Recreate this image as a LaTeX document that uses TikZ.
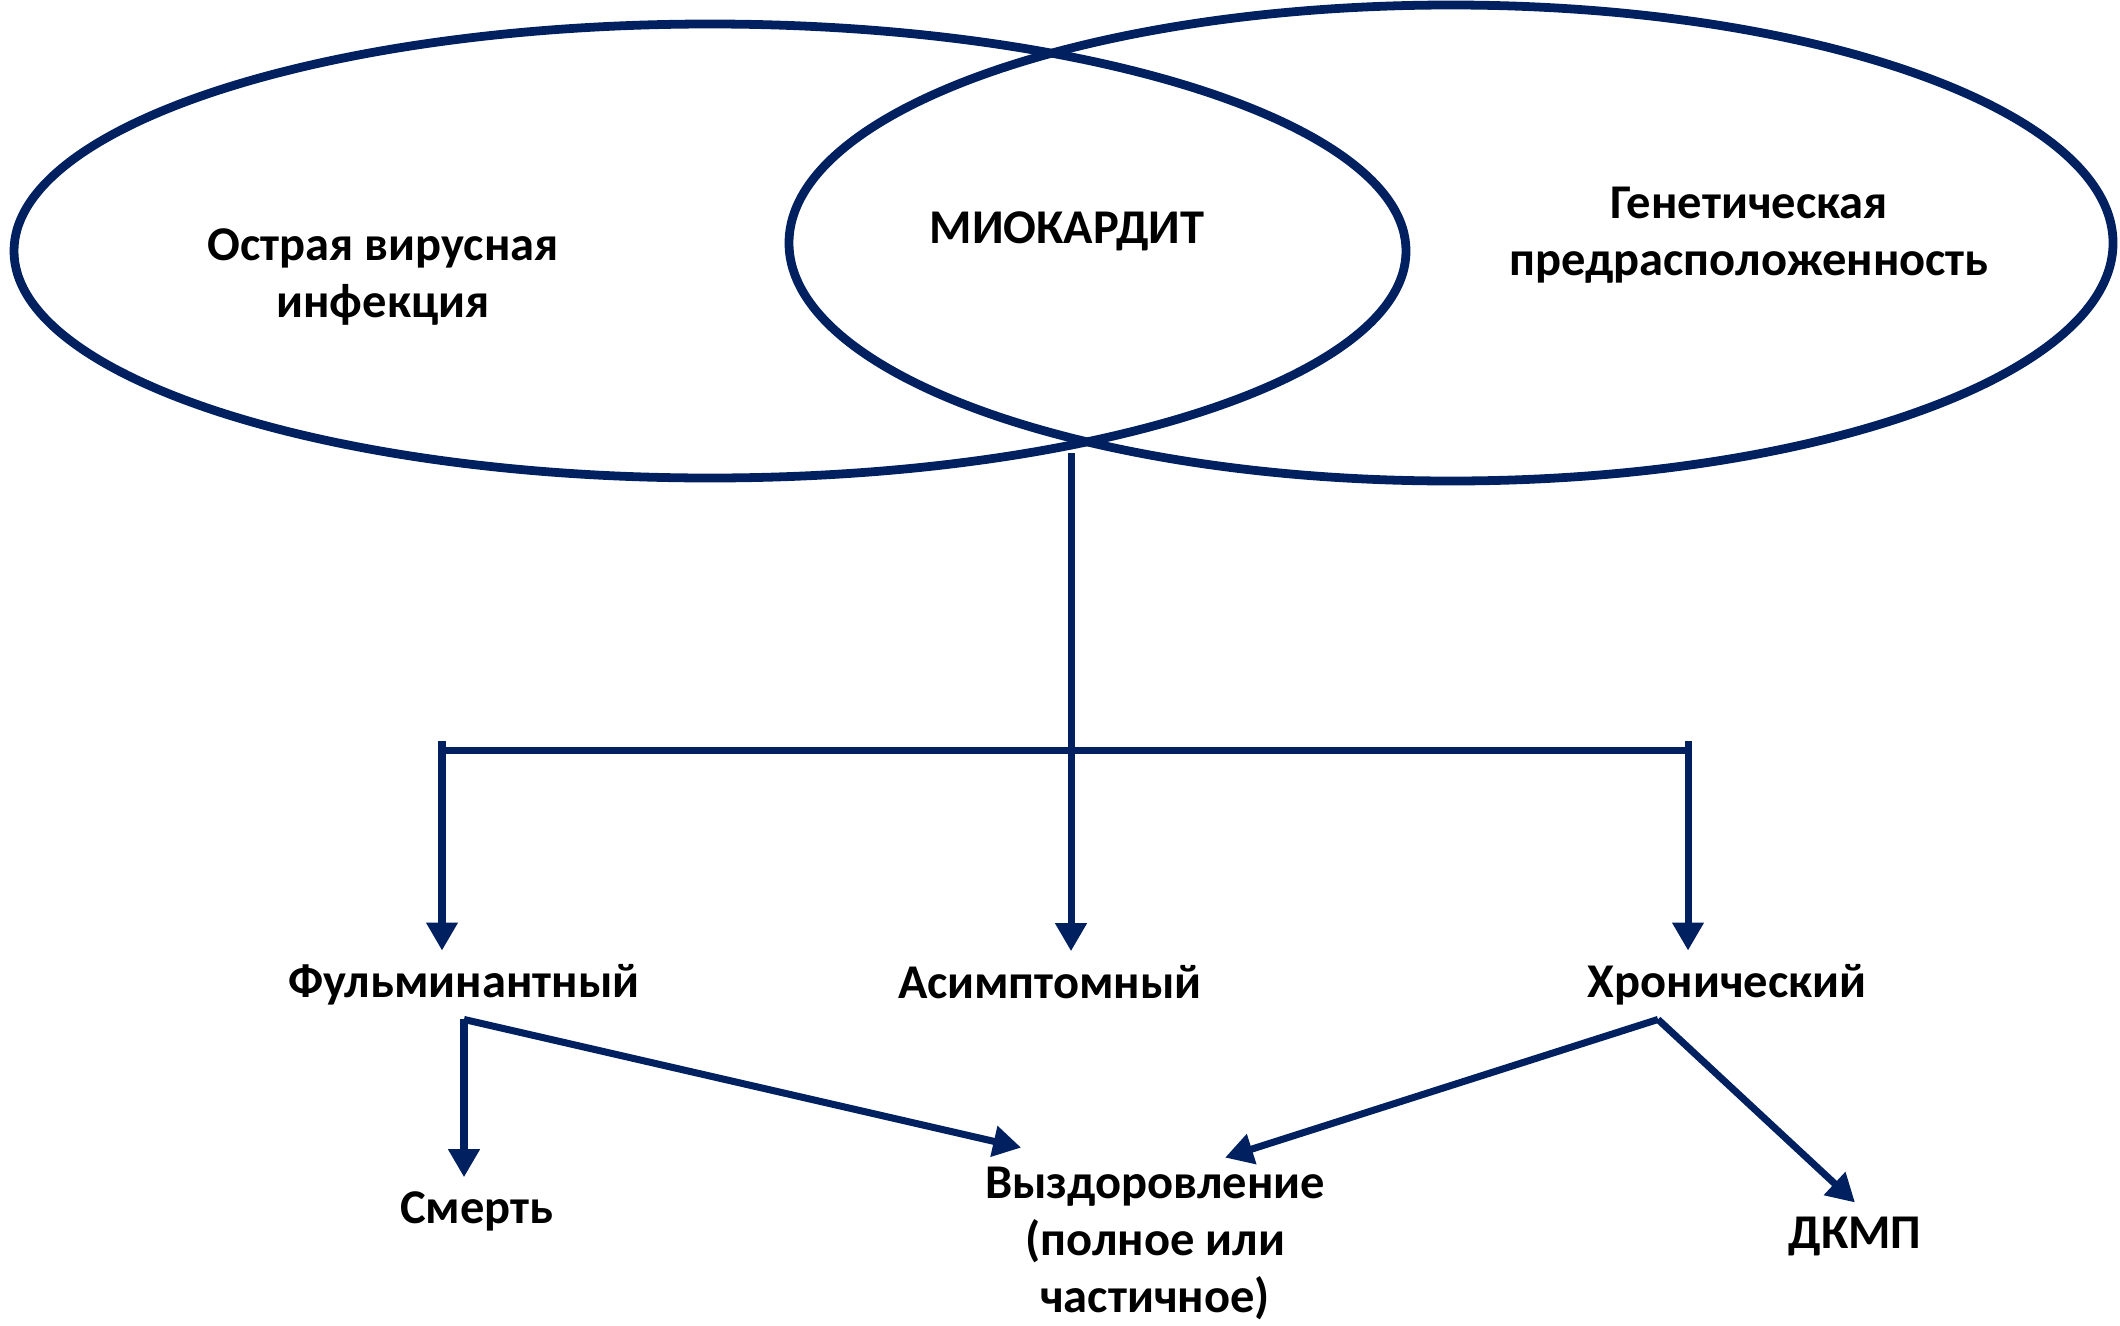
\documentclass[tikz,border=0pt]{standalone}
\usepackage{fontspec}
\setmainfont{Carlito}
\usetikzlibrary{arrows.meta, positioning, shapes.geometric, calc}
\definecolor{navy}{RGB}{0,32,96}

\begin{document}
\begin{tikzpicture}[
        circ/.style={draw=navy, line width=2.5pt, ellipse, inner sep=0pt},
        lbl/.style={font=\fontsize{13.8}{16.2}\selectfont\bfseries, align=center, inner sep=0pt},
        outcome/.style={lbl, outer sep=4pt},
        link/.style={draw=navy, line width=2pt},
        arrow/.style={link, -{Triangle[width=0.3cm, length=0.28cm]}}
    ]
        \useasboundingbox (0,0) rectangle (21.2,-13.25);

        % --- Two overlapping causes ---
        \node[circ, minimum width=13.92cm, minimum height=4.54cm] (virus) at (7.10,-2.51) {};
        \node[circ, minimum width=13.24cm, minimum height=4.76cm] (gene) at (14.51,-2.43) {};

        \node[lbl] (virustext) at (3.83,-2.77) {Острая вирусная\\инфекция};
        \node[lbl] (myo) at (10.67,-2.31) {МИОКАРДИТ};
        \node[lbl] (genetext) at (17.49,-2.35) {Генетическая\\предрасположенность};

        % --- Forms of the disease ---
        \node[outcome] (fulm) at (4.64,-9.85) {Фульминантный};
        \node[outcome] (asym) at (10.50,-9.82) {Асимптомный};
        \node[outcome] (chron) at (17.27,-9.85) {Хронический};

        % --- Outcomes ---
        \node[outcome] (death) at (4.77,-12.11) {Смерть};
        \node[outcome] (rec) at (11.55,-12.43) {Выздоровление\\(полное или\\частичное)};
        \node[outcome] (dkmp) at (18.55,-12.36) {ДКМП};

        % --- Branching from the overlap ---
        \coordinate (split) at (10.71,-4.53);
        \coordinate (barL) at (4.42,-7.50);
        \coordinate (barR) at (16.88,-7.50);

        \draw[arrow] (split) -- (split |- asym.north);
        \draw[link] (barL) -- (barR);
        \draw[arrow] ($(barL)+(0,0.09)$) -- (barL |- fulm.north);
        \draw[arrow] ($(barR)+(0,0.09)$) -- (barR |- chron.north);

        % --- From fulminant and chronic forms ---
        \draw[arrow] (fulm.south) -- (fulm.south |- death.north);
        \draw[arrow] (fulm.south) -- ($(rec.north west)+(0.5,0.05)$);
        \draw[arrow] ($(chron.south)+(-0.69,0)$) -- ($(rec.north)+(0.70,-0.05)$);
        \draw[arrow] ($(chron.south)+(-0.69,0)$) -- (dkmp.north);

    \end{tikzpicture}
\end{document}
